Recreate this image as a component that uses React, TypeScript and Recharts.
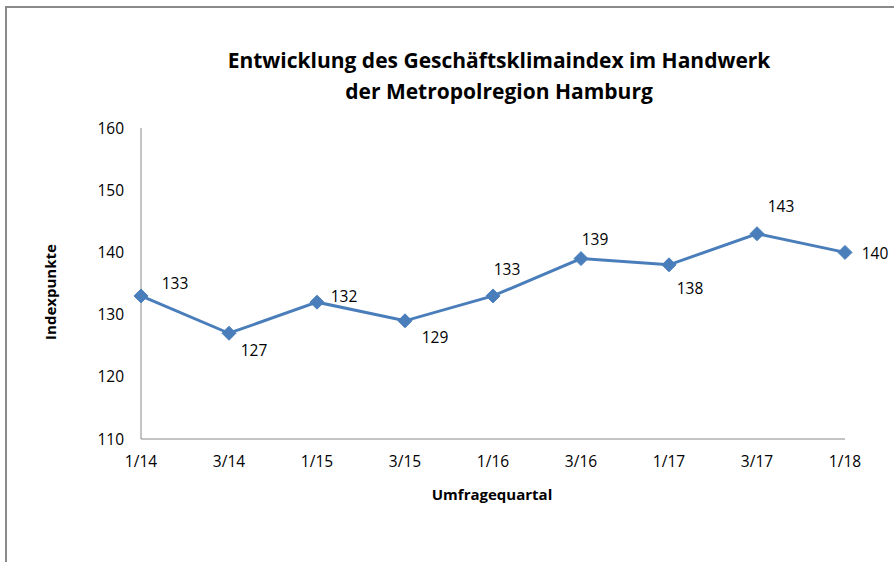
import React from "react";
import { LineChart, Line, XAxis, YAxis, LabelList } from "recharts";

const quarters = ["1/14", "3/14", "1/15", "3/15", "1/16", "3/16", "1/17", "3/17", "1/18"];
const indexValues = [133, 127, 132, 129, 133, 139, 138, 143, 140];
const yTicks = [110, 120, 130, 140, 150, 160];
// label offsets (dx, dy) relative to each point, as placed in the original
const labelDx = [34, 25, 27, 30, 14, 14, 21, 24, 30];
const labelDy = [-13, 17, -6, 16, -27, -20, 23, -28, 1];

const data = quarters.map((q, i) => ({ q, v: indexValues[i] }));

const FONT = "'Open Sans', 'Noto Sans', sans-serif";
const BLUE = "#4a7ebb";
const AXIS = "#888888";

const Diamond = (props: any) => {
  const { cx, cy, index } = props;
  if (cx == null || cy == null) return null;
  const r = 7;
  return (
    <polygon
      key={`d${index}`}
      points={`${cx},${cy - r} ${cx + r},${cy} ${cx},${cy + r} ${cx - r},${cy}`}
      fill={BLUE}
      stroke={BLUE}
      strokeWidth={1}
    />
  );
};

const ValueLabel = (props: any) => {
  const { x, y, value, index } = props;
  return (
    <text
      x={x + labelDx[index]}
      y={y + labelDy[index]}
      textAnchor="middle"
      dominantBaseline="central"
      fontFamily={FONT}
      fontSize={15.5}
      fill="#000"
    >
      {value}
    </text>
  );
};

export default function App() {
  return (
    <div style={{ position: "absolute", left: 0, top: 0, width: 894, height: 562, background: "#fff", overflow: "hidden" }}>
      <div style={{ position: "absolute", left: 5, top: 6, width: 900, height: 600, borderLeft: "2px solid #8a8a8a", borderTop: "2px solid #8a8a8a", boxSizing: "border-box" }} />
      <div style={{ position: "absolute", left: 0, top: 45, width: 998, textAlign: "center", fontFamily: FONT, fontWeight: 700, fontSize: 21, lineHeight: "31px", color: "#000" }}>
        Entwicklung des Geschäftsklimaindex im Handwerk
        <br />
        der Metropolregion Hamburg
      </div>
      <div style={{ position: "absolute", left: 50, top: 292, transform: "translate(-50%, -50%) rotate(-90deg)", fontFamily: FONT, fontWeight: 700, fontSize: 15, whiteSpace: "nowrap", color: "#000" }}>
        Indexpunkte
      </div>
      <div style={{ position: "absolute", left: 492, top: 494, transform: "translate(-50%, -50%)", fontFamily: FONT, fontWeight: 700, fontSize: 15, whiteSpace: "nowrap", color: "#000" }}>
        Umfragequartal
      </div>
      <div style={{ position: "absolute", left: 0, top: 0 }}>
        <LineChart width={894} height={562} data={data} margin={{ top: 128, right: 49, bottom: 93, left: 81 }}>
          <XAxis
            dataKey="q"
            axisLine={{ stroke: AXIS }}
            tickLine={false}
            tickSize={0}
            tickMargin={17}
            height={30}
            interval={0}
            tick={{ fontFamily: FONT, fontSize: 15.5, fill: "#000" }}
          />
          <YAxis
            domain={[110, 160]}
            ticks={yTicks}
            axisLine={{ stroke: AXIS }}
            tickLine={false}
            tickSize={0}
            tickMargin={17}
            width={60}
            interval={0}
            tick={{ fontFamily: FONT, fontSize: 15.5, fill: "#000" }}
          />
          <Line
            dataKey="v"
            stroke={BLUE}
            strokeWidth={3}
            dot={<Diamond />}
            activeDot={false}
            isAnimationActive={false}
          >
            <LabelList dataKey="v" content={<ValueLabel />} />
          </Line>
        </LineChart>
      </div>
    </div>
  );
}
